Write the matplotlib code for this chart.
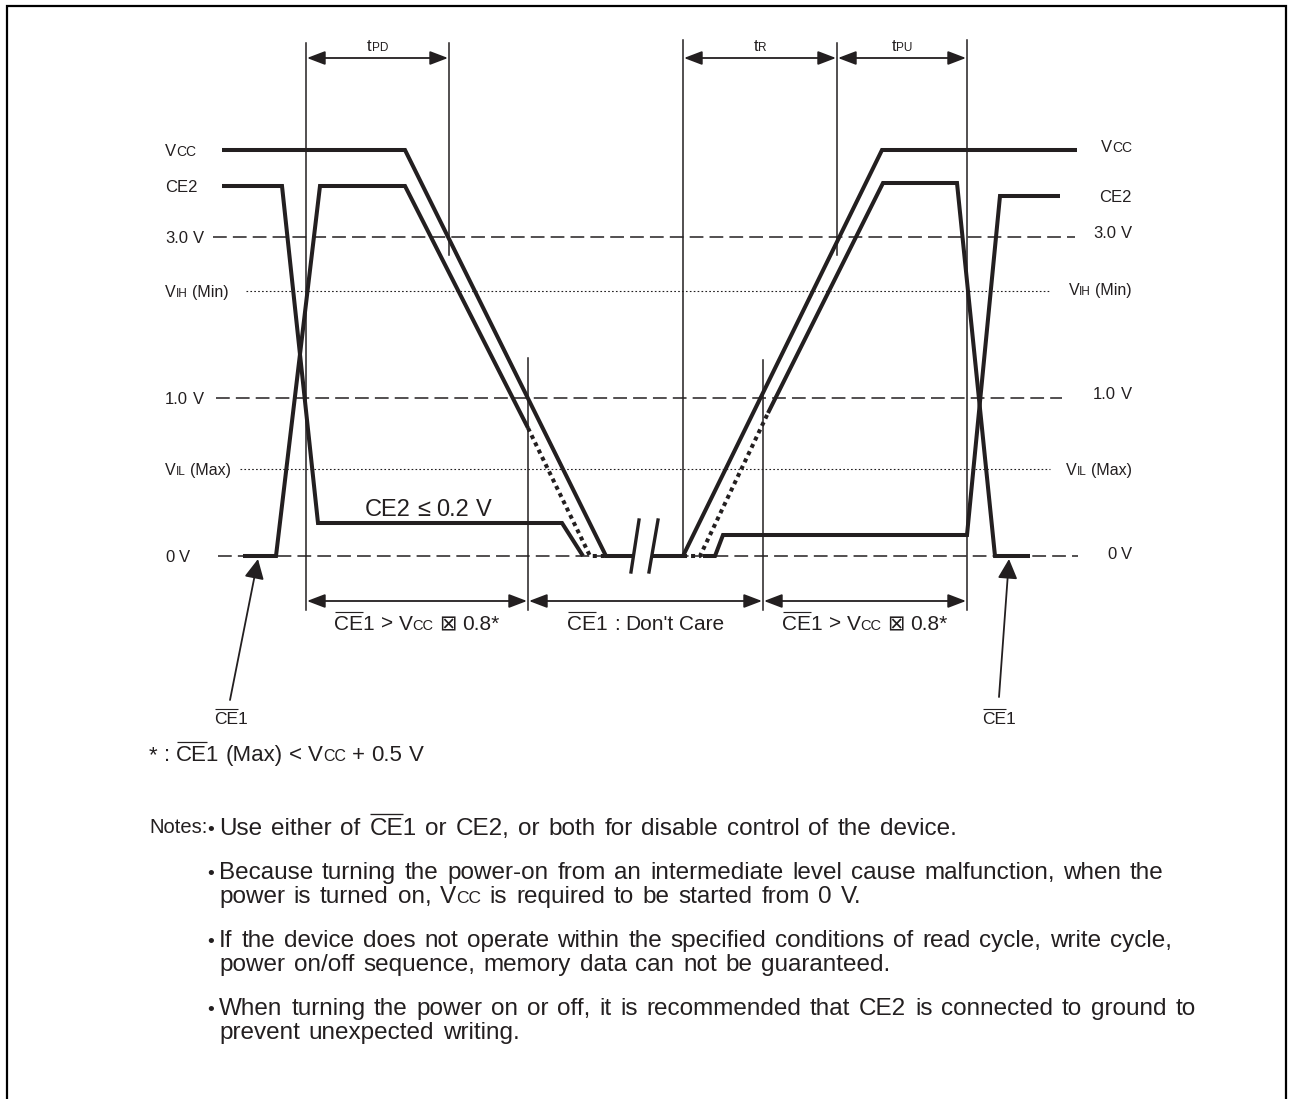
import matplotlib
matplotlib.use('Agg')
import matplotlib.pyplot as plt
from matplotlib.patches import FancyArrowPatch

plt.rcParams['font.family'] = ['Liberation Sans', 'DejaVu Sans']

W, H = 1291, 1099
INK = '#231f20'
CE1B = '#CE1'   # '#' marks a word whose "CE" carries an overline

# reference levels (drawing rows) and the span of their guide lines
lvl_y = [237, 291, 398, 469, 556]
lvl_x0 = [213, 246, 216, 240, 218]
lvl_x1 = [1075, 1050, 1062, 1050, 1078]
lvl_dashed = [True, False, True, False, True]

# waveforms: power down (left of break) / power up (right of break)
vcc_dn_x = [222, 405, 606, 633]
vcc_dn_y = [150, 150, 556, 556]
vcc_up_x = [652, 683, 882, 1077]
vcc_up_y = [556, 556, 150, 150]
ce2_dn_x = [222, 282, 318, 562, 583]
ce2_dn_y = [186, 186, 523, 523, 556]
ce1_dn_x = [243, 276, 320, 405, 528]
ce1_dn_y = [556, 556, 186, 186, 428]
ce1_dn_dot_x = [528, 590, 606]
ce1_dn_dot_y = [428, 556, 556]
ce1_up_dot_x = [683, 700, 768]
ce1_up_dot_y = [556, 556, 413]
ce1_up_x = [768, 883, 957, 995, 1030]
ce1_up_y = [413, 183, 183, 556, 556]
ce2_up_x = [703, 715, 723, 967, 1000, 1060]
ce2_up_y = [556, 556, 535, 535, 196, 196]

# timing markers
vx = [306, 449, 528, 683, 763, 837, 967]
vtop = [43, 43, 358, 40, 360, 43, 40]
vbot = [610, 255, 610, 556, 610, 255, 610]
top_spans = [(306, 449), (683, 837), (837, 967)]
top_names = [('t', 'PD'), ('t', 'R'), ('t', 'PU')]
bot_spans = [(306, 528), (528, 763), (763, 967)]

# notes block
NF = 17.5
NS = 12.5
notes_y = [826, 870, 894, 938, 962, 1006, 1030]
notes_txt = [
    [('Use either of ' + CE1B + ' or CE2, or both for disable control of the device.', NF)],
    [('Because turning the power-on from an intermediate level cause malfunction, when the', NF)],
    [('power is turned on, V', NF), ('CC', NS), (' is required to be started from 0 V.', NF)],
    [('If the device does not operate within the specified conditions of read cycle, write cycle,', NF)],
    [('power on/off sequence, memory data can not be guaranteed.', NF)],
    [('When turning the power on or off, it is recommended that CE2 is connected to ground to', NF)],
    [('prevent unexpected writing.', NF)],
]
bullet_y = [826, 870, 938, 1006]

fig = plt.figure(figsize=(W / 100, H / 100), dpi=100)
ax = fig.add_axes([0, 0, 1, 1])
ax.set_xlim(0, W)
ax.set_ylim(H, 0)
ax.axis('off')
rend = fig.canvas.get_renderer()


def rich(x, y, parts, ha='left', extra=0.0):
    # words of mixed sizes on one baseline; extra widens every word gap (px)
    toks = []
    gap = 0
    for s, fs in parts:
        for i, w in enumerate(s.split(' ')):
            if i > 0:
                gap += 1
            if w:
                toks.append((w, fs, gap))
                gap = 0
    cx = 0.0
    objs = []
    for w, fs, g in toks:
        bar = w.startswith('#')
        w = w.lstrip('#')
        t = ax.text(0, y, w, fontsize=fs, color=INK, ha='left', va='baseline')
        cx += (fs * 100 / 72 * 0.278 + extra) * g
        wbar = 0.0
        if bar:
            tmp = ax.text(0, y, 'CE', fontsize=fs)
            wbar = tmp.get_window_extent(rend).width
            tmp.remove()
        objs.append((t, cx, fs, wbar))
        cx += t.get_window_extent(rend).width
    off = {'left': 0, 'center': cx / 2, 'right': cx}[ha]
    for t, p, fs, wbar in objs:
        t.set_x(x + p - off)
        if wbar:
            em = fs * 100 / 72
            yl = y - 0.716 * em - 0.13 * em
            ax.plot([x + p - off + 0.5, x + p - off + wbar], [yl, yl], color=INK,
                    lw=max(0.8, fs * 0.055), solid_capstyle='butt')


def base(yc, fs):
    # baseline for a text whose caps are centred on yc
    return round(yc + 0.716 * fs * 100 / 72 / 2)


# frame
ax.plot([7, 7, 1286, 1286], [H, 6, 6, H], color='black', lw=1.6,
        solid_joinstyle='miter')

# guide lines
for y, x0, x1, d in zip(lvl_y, lvl_x0, lvl_x1, lvl_dashed):
    if d:
        ax.plot([x0, x1], [y, y], color=INK, lw=1.1, ls=(0, (9, 4)), zorder=1)
    else:
        ax.plot([x0, x1], [y, y], color=INK, lw=0.8, ls=(0, (1.5, 2)), zorder=1)
# break gap
ax.plot([634, 651], [556, 556], color='white', lw=3, zorder=2)

# waveforms
thick = dict(color=INK, lw=2.9, solid_joinstyle='miter', solid_capstyle='butt', zorder=3)
dots = dict(color=INK, lw=2.9, ls=(0, (1, 1)), dash_capstyle='butt', zorder=3)
for xs, ys in [(vcc_dn_x, vcc_dn_y), (vcc_up_x, vcc_up_y), (ce2_dn_x, ce2_dn_y),
               (ce1_dn_x, ce1_dn_y), (ce1_up_x, ce1_up_y), (ce2_up_x, ce2_up_y)]:
    ax.plot(xs, ys, **thick)
ax.plot(ce1_dn_dot_x, ce1_dn_dot_y, **dots)
ax.plot(ce1_up_dot_x, ce1_up_dot_y, **dots)

# break marks
ax.plot([639, 631], [520, 572], color=INK, lw=2.4, zorder=4)
ax.plot([658, 649], [520, 572], color=INK, lw=2.4, zorder=4)

# vertical markers
for x, t, b in zip(vx, vtop, vbot):
    ax.plot([x, x], [t, b], color=INK, lw=1.1, zorder=2)

arrow_kw = dict(arrowstyle='<|-|>,head_length=0.55,head_width=0.21',
                mutation_scale=20, color=INK, lw=1.3, shrinkA=0, shrinkB=0)
for (a, b), (big, small) in zip(top_spans, top_names):
    ax.add_patch(FancyArrowPatch((a + 1, 58), (b - 1, 58), **arrow_kw))
    rich((a + b) / 2, base(45, 12), [(big, 12), (small, 8.5)], ha='center')
for a, b in bot_spans:
    ax.add_patch(FancyArrowPatch((a + 1, 601), (b - 1, 601), **arrow_kw))
BL = 15
rich(417, base(623, BL), [(CE1B + ' > V', BL), ('CC', 10.5), (' \u22a0 0.8*', BL)], ha='center')
rich(646, base(623, BL), [(CE1B + ' : Don\'t Care', BL)], ha='center')
rich(865, base(623, BL), [(CE1B + ' > V', BL), ('CC', 10.5), (' \u22a0 0.8*', BL)], ha='center')

# level labels
left_lab = [(150, [('V', 12), ('CC', 10)]), (186, [('CE2', 12)]),
            (237, [('3.0 V', 12)]), (291, [('V', 11.5), ('IH', 8.5), (' (Min)', 11.5)]),
            (398, [('1.0 V', 12)]), (469, [('V', 11.5), ('IL', 8.5), (' (Max)', 11.5)]),
            (556, [('0 V', 12)])]
right_lab = [(146, [('V', 12), ('CC', 10)]), (196, [('CE2', 12)]),
             (232, [('3.0 V', 12)]), (289, [('V', 11.5), ('IH', 8.5), (' (Min)', 11.5)]),
             (393, [('1.0 V', 12)]), (469, [('V', 11.5), ('IL', 8.5), (' (Max)', 11.5)]),
             (553, [('0 V', 12)])]
for y, parts in left_lab:
    rich(165, base(y, parts[0][1]), parts)
for y, parts in right_lab:
    rich(1132, base(y, parts[0][1]), parts, ha='right')

rich(428, base(508, 17), [('CE2 \u2264 0.2 V', 17)], ha='center')

# CE1 pointers
for (x0, y0), (x1, y1), lx in [((230, 700), (258, 559), 231), ((999, 697), (1009, 559), 999)]:
    ax.annotate('', xy=(x1, y1), xytext=(x0, y0),
                arrowprops=dict(arrowstyle='-|>,head_length=0.4,head_width=0.2',
                                mutation_scale=30, color=INK, lw=1.3,
                                shrinkA=0, shrinkB=0))
    rich(lx, base(718, 12.5), [(CE1B, 12.5)], ha='center')

# footnote and notes
FF = 16
rich(149, base(753, FF), [('* : ' + CE1B + ' (Max) < V', FF), ('CC', 11.5), (' + 0.5 V', FF)])
rich(149, base(826, 14.5), [('Notes:', 14.5)])
for y in bullet_y:
    rich(207, base(y, NF), [('\u2022', NF * 0.8)])
for y, parts in zip(notes_y, notes_txt):
    rich(219, base(y, NF), parts, extra=2.0)

fig.savefig('out.png', dpi=100, facecolor='white')
